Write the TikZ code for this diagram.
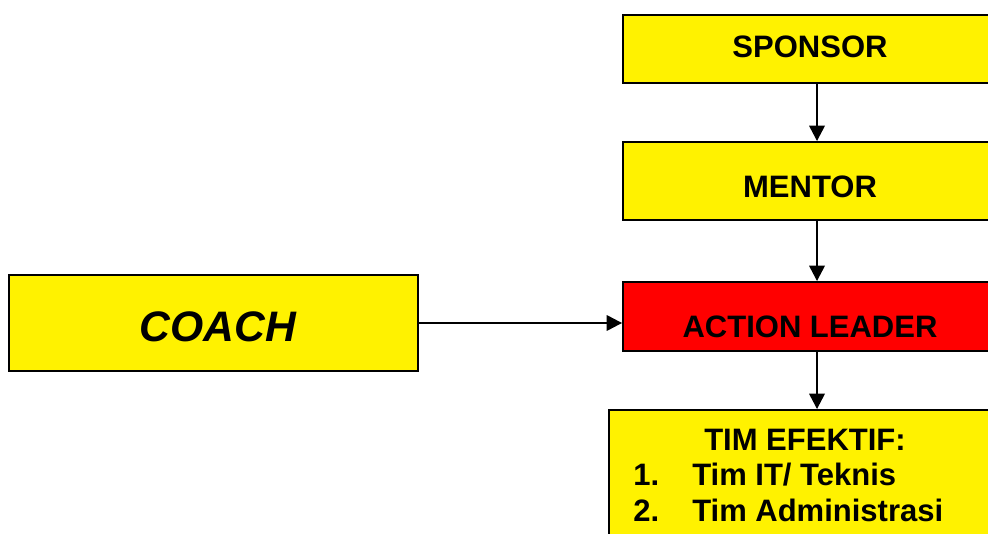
\documentclass[tikz,border=0pt]{standalone}
\usepackage{fontspec}
\setmainfont{Liberation Sans}
\usetikzlibrary{arrows.meta, positioning}

\begin{document}
\begin{tikzpicture}[x=0.75pt, y=-0.75pt,
    box/.style={draw=black, line width=1.4pt, fill=yellow, inner sep=0pt},
    txt/.style={anchor=base, inner sep=0pt, font=\fontsize{23.25}{28}\selectfont\bfseries},
    arr/.style={line width=1.75pt, -{Triangle[length=11.5pt, width=11.5pt]}}]
  \useasboundingbox (0, 0) rectangle (988, 534);
  \clip (0, 0) rectangle (988, 534);
  % boxes, the right column runs off the page
  \node[box, minimum width=280.5pt, minimum height=51pt] (sponsor) at (810, 49) {};
  \node[box, minimum width=280.5pt, minimum height=58.5pt] (mentor) at (810, 181) {};
  \node[box, fill=red, minimum width=280.5pt, minimum height=51.75pt] (leader) at (810, 316.5) {};
  \node[box, minimum width=306.75pt, minimum height=72pt] (coach) at (213.5, 323) {};
  \node[box, minimum width=301.5pt, minimum height=142.5pt] (tim) at (810, 505) {};
  % labels
  \node[txt] (sponsor-t) at (810, 58) {SPONSOR};
  \node[txt] (mentor-t) at (810, 198) {MENTOR};
  \node[txt] (leader-t) at (810, 338) {ACTION LEADER};
  \node[txt, font=\fontsize{32}{38}\selectfont\bfseries\itshape] (coach-t) at (218, 342) {COACH};
  \node[txt] (tim-t) at (805, 450) {TIM EFEKTIF:};
  \node[txt, anchor=base west] (n1) at (633, 485) {1.};
  \node[txt, anchor=base west] (tim-it) at (692, 485) {Tim IT/ Teknis};
  \node[txt, anchor=base west] (n2) at (633, 521) {2.};
  \node[txt, anchor=base west] (tim-adm) at (692, 521) {Tim Administrasi};
  % arrows
  \draw[arr] ([xshift=5.25pt]sponsor.south) -- ([xshift=5.25pt]mentor.north);
  \draw[arr] ([xshift=5.25pt]mentor.south) -- ([xshift=5.25pt]leader.north);
  \draw[arr] ([xshift=5.25pt]leader.south) -- ([xshift=5.25pt]tim.north);
  \draw[arr] (coach.east) -- (coach.east -| leader.west);
\end{tikzpicture}
\end{document}
